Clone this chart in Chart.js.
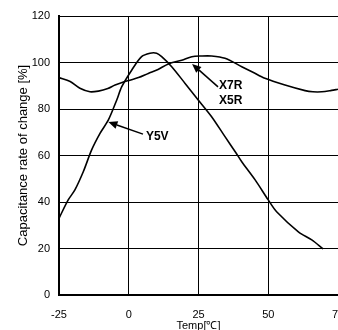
<!DOCTYPE html>
<html>
<head>
<meta charset="utf-8">
<script src="https://cdn.jsdelivr.net/npm/chart.js@4"></script>
<style>
  html, body { margin: 0; padding: 0; background: #fff; overflow: hidden; }
  #wrap { width: 338px; height: 330px; position: relative; }
</style>
</head>
<body>
<div id="wrap"><canvas id="cap-chart"></canvas></div>
<script>
// temperature [°C] / capacitance change [%]
const tempX7R = [-25, -21, -17.5, -13.9, -10.9, -7.5, -4.9, -0.2, 3.5, 7, 10.5, 14.2, 19, 22.6, 26, 29.7, 34.5, 40.5, 44.5, 48.8, 56, 63.2, 66, 69.2, 72.7, 75];
const capX7R  = [93.5, 91.8, 88.9, 87.4, 87.7, 88.8, 90.3, 92.2, 93.5, 95.3, 97, 99.4, 101, 102.5, 102.8, 102.8, 101.8, 98.2, 95.8, 93.2, 90.3, 87.9, 87.4, 87.4, 88, 88.5];

const tempY5V = [-25, -21.7, -19.3, -16.3, -13.3, -10.3, -7.3, -4.3, -2.5, 1.1, 4.6, 7.6, 10, 11.8, 15.4, 20.2, 24.9, 29.7, 34.5, 38.4, 40.5, 45.3, 50, 53, 60.8, 65.6, 69.7];
const capY5V  = [33, 40.9, 45.2, 53, 62.4, 69.5, 75.3, 83.9, 89.6, 96.8, 102.5, 104, 104, 102.5, 98.2, 91, 83.9, 76.7, 68.1, 61.2, 57.3, 49.5, 40.9, 35.8, 27.2, 23.7, 19.8];

const xTicks = [-25, 0, 25, 50, 75];
const yTicks = [0, 20, 40, 60, 80, 100, 120];

// labels with arrows: text lines, text anchor, arrow from / to (data units)
const notes = [
  { lines: ['X7R', 'X5R'], x: 32, y: 90, from: [32, 89.5], to: [22.7, 99.4] },
  { lines: ['Y5V'], x: 5.8, y: 68, from: [5.1, 69.2], to: [-7.3, 74.4] }
];

function toPoints(xs, ys) {
  return xs.map((x, i) => ({ x: x, y: ys[i] }));
}

const arrowNotes = {
  id: 'arrowNotes',
  afterDatasetsDraw: chart => {
    const ctx = chart.ctx;
    const sx = chart.scales.x, sy = chart.scales.y;
    ctx.save();
    ctx.strokeStyle = '#000';
    ctx.fillStyle = '#000';
    ctx.lineWidth = 1.5;
    notes.forEach(n => {
      const x1 = sx.getPixelForValue(n.from[0]), y1 = sy.getPixelForValue(n.from[1]);
      const x2 = sx.getPixelForValue(n.to[0]), y2 = sy.getPixelForValue(n.to[1]);
      const ang = Math.atan2(y2 - y1, x2 - x1);
      const hl = 9, hw = 4;
      const bx = x2 - hl * Math.cos(ang), by = y2 - hl * Math.sin(ang);
      ctx.beginPath();
      ctx.moveTo(x1, y1);
      ctx.lineTo(bx, by);
      ctx.stroke();
      ctx.beginPath();
      ctx.moveTo(x2, y2);
      ctx.lineTo(bx + hw * Math.sin(ang), by - hw * Math.cos(ang));
      ctx.lineTo(bx - hw * Math.sin(ang), by + hw * Math.cos(ang));
      ctx.closePath();
      ctx.fill();

      ctx.font = 'bold 12px "Liberation Sans", Arial, sans-serif';
      ctx.textBaseline = 'middle';
      ctx.textAlign = 'left';
      const tx = sx.getPixelForValue(n.x), ty = sy.getPixelForValue(n.y);
      n.lines.forEach((t, i) => ctx.fillText(t, tx + 1, ty + i * 15));
    });
    ctx.restore();
  }
};

const font = { family: '"Liberation Sans", Arial, sans-serif', size: 11 };

new Chart(document.getElementById('cap-chart').getContext('2d'), {
  type: 'line',
  data: {
    datasets: [{
      label: 'X7R/X5R',
      data: toPoints(tempX7R, capX7R),
      borderColor: '#000',
      borderWidth: 1.6,
      pointRadius: 0,
      tension: 0.3,
      fill: false
    }, {
      label: 'Y5V',
      data: toPoints(tempY5V, capY5V),
      borderColor: '#000',
      borderWidth: 1.6,
      pointRadius: 0,
      tension: 0.3,
      fill: false
    }]
  },
  options: {
    responsive: true,
    maintainAspectRatio: false,
    animation: false,
    layout: { padding: { top: 16, left: 0, right: 0, bottom: 0 } },
    plugins: {
      legend: { display: false },
      tooltip: { enabled: false }
    },
    scales: {
      x: {
        type: 'linear',
        min: -25,
        max: 75,
        afterBuildTicks: scale => { scale.ticks = xTicks.map(v => ({ value: v })); },
        afterFit: scale => { scale.height = 35; scale.paddingLeft = 0; scale.paddingRight = 0; },
        grid: { color: '#000', lineWidth: 1, drawTicks: false },
        border: { color: '#000', width: 2 },
        ticks: { color: '#000', font: font, padding: 13, maxRotation: 0 },
        title: { display: true, text: 'Temp[℃]', color: '#000', font: font, padding: { top: 0, bottom: -3 } }
      },
      y: {
        min: 0,
        max: 120,
        afterBuildTicks: scale => { scale.ticks = yTicks.map(v => ({ value: v })); },
        afterFit: scale => { scale.width = 59; },
        grid: { color: '#000', lineWidth: 1, drawTicks: false },
        border: { color: '#000', width: 2 },
        ticks: { color: '#000', font: font, padding: 9 },
        title: { display: true, text: 'Capacitance rate of change [%]', color: '#000', font: { family: font.family, size: 13 }, padding: { top: 16, bottom: 0 } }
      }
    }
  },
  plugins: [arrowNotes]
});
</script>
</body>
</html>
